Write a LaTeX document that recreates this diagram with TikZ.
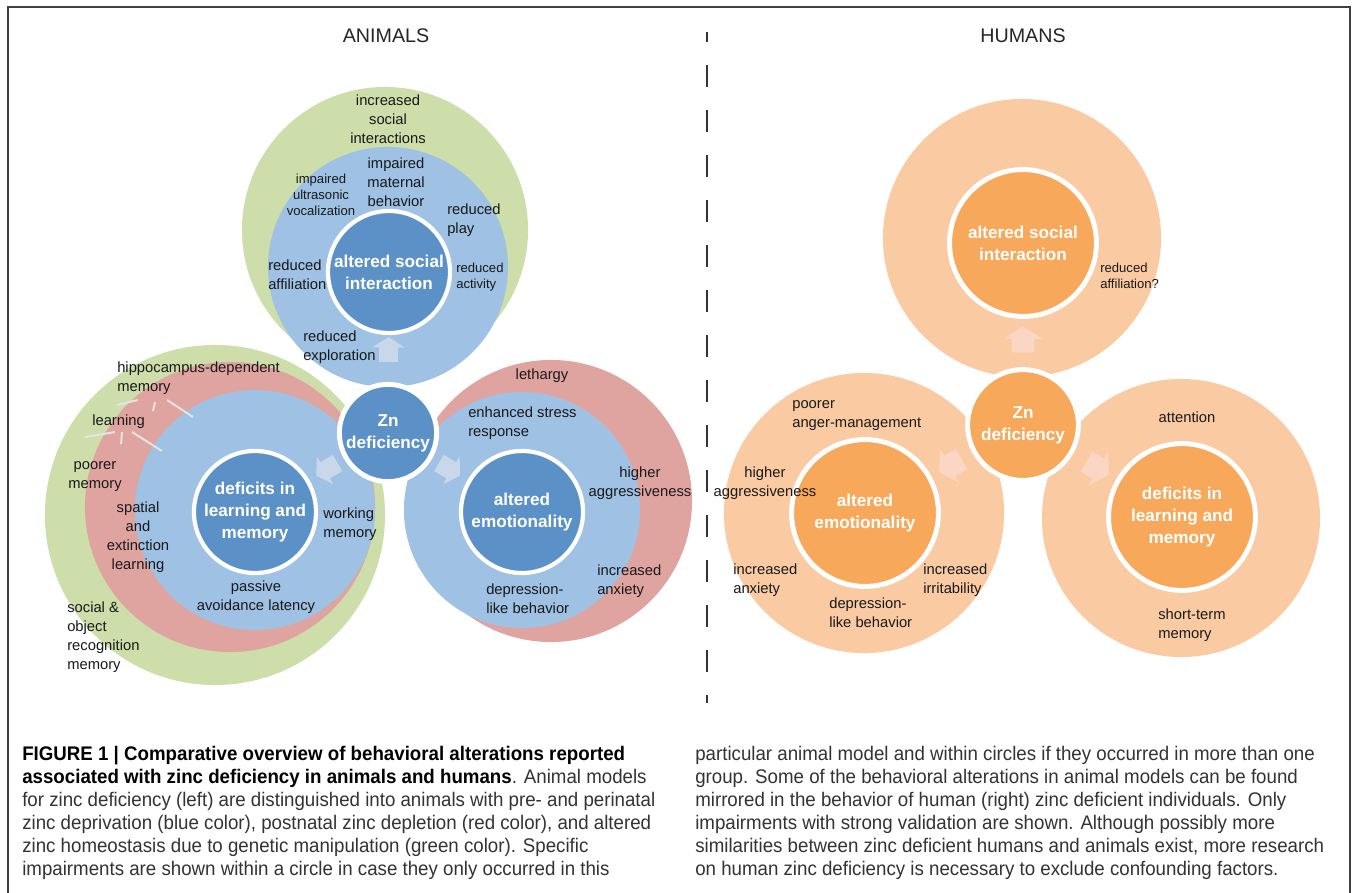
\documentclass[tikz,border=0pt]{standalone}
\usepackage{fontspec}
\setmainfont{Liberation Sans}
\newfontfamily\capfont[FakeStretch=0.95]{Liberation Sans}
\usetikzlibrary{shapes.geometric,shapes.arrows,positioning}
\definecolor{blueD}{RGB}{91,145,198}
\definecolor{blueL}{RGB}{158,193,228}
\definecolor{grnL}{RGB}{205,222,170}
\definecolor{redL}{RGB}{224,164,160}
\definecolor{orgD}{RGB}{247,168,90}
\definecolor{orgL}{RGB}{250,203,162}
\definecolor{arrA}{RGB}{200,216,234}
\definecolor{arrH}{RGB}{251,214,196}
\definecolor{tickgray}{RGB}{228,228,228}
\tikzset{
    ring/.style={circle, inner sep=0pt},
    core/.style={circle, draw=white, line width=3pt, inner sep=0pt, align=center,
        text=white, font=\fontsize{12.2}{15.6}\selectfont\bfseries},
    lab/.style={align=center, inner sep=0pt, text=black!90,
        font=\fontsize{10.5}{13.5}\selectfont},
    labs/.style={lab, font=\fontsize{9.3}{11.3}\selectfont},
    zarrow/.style={single arrow, inner xsep=0pt, inner ysep=0.23cm,
        minimum height=0.62cm, single arrow head extend=0.17cm,
        single arrow tip angle=115, single arrow head indent=0pt,
        sloped, allow upside down},
    zarrowH/.style={zarrow, inner ysep=0.28cm, single arrow head extend=0.2cm,
        minimum height=0.65cm},
    tick/.style={draw=tickgray, line width=1.4pt},
    ttl/.style={inner sep=0pt, text=black!85, font=\fontsize{14}{16}\selectfont},
    captxt/.style={anchor=north west, inner sep=0pt, align=left, text=black!80,
        font=\capfont\fontsize{14}{16.36}\selectfont}
}

\begin{document}
\begin{tikzpicture}[x=0.025cm, y=-0.025cm]
  \useasboundingbox (0,0) rectangle (1354,893);
  \fill[white] (0,0) rectangle (1354,893);

  % frame and divider
  \draw[black!75, line width=1.4pt] (8,893) |- (1350,7) -- (1350,893);
  \draw[black!80, line width=2pt, dash pattern=on 15.6pt off 16.4pt, dash phase=8.5pt]
      (707,32) -- (707,703);

  \node[ttl] (ttlA) at (386,36) {ANIMALS};
  \node[ttl] (ttlH) at (1023,36) {HUMANS};

  %% animals
  % learning and memory
  \node[ring, fill=grnL, minimum size=8.5cm]  (lrnG) at (215,515) {};
  \node[ring, fill=redL, minimum size=7.25cm] (lrnR) at (230,507) {};
  \node[ring, fill=blueL, minimum size=6cm]   (lrnB) at (255,510) {};
  % emotionality
  \node[ring, fill=redL, minimum size=7.05cm] (emoR) at (551,501) {};
  \node[ring, fill=blueL, minimum size=5.9cm] (emoB) at (522,510) {};
  % social interaction
  \node[ring, fill=grnL, minimum size=7.15cm] (socG) at (385,230) {};
  \node[ring, fill=blueL, minimum size=6cm]   (socB) at (388,267) {};

  \node[core, fill=blueD, minimum size=3.05cm] (socA) at (389,272) {altered social\\interaction};
  \node[core, fill=blueD, minimum size=3.05cm] (lrnA) at (255,512) {deficits in\\learning and\\memory};
  \node[core, fill=blueD, minimum size=3.05cm] (emoA) at (522,512) {altered\\emotionality};

  \coordinate (znAc) at (388,433);
  \path (znAc) -- (socA.center) node[zarrow, fill=arrA, pos=.5] (upA) {};
  \path (znAc) -- (lrnA.center) node[zarrow, fill=arrA, pos=.44] (leftA) {};
  \path (znAc) -- (emoA.center) node[zarrow, fill=arrA, pos=.44] (rightA) {};
  \node[core, fill=blueD, line width=3.5pt, minimum size=2.43cm] (znA) at (znAc) {Zn\\deficiency};

  \node[lab] (isi) at (388,119) {increased\\social\\interactions};
  \node[lab] (imb) at (396,182) {impaired\\maternal\\behavior};
  \node[labs] (iuv) at (321,195) {impaired\\ultrasonic\\vocalization};
  \node[lab, anchor=west, align=left] (rpl) at (447,220) {reduced\\play};
  \node[lab, anchor=west, align=left] (raf) at (268,275) {reduced\\affiliation};
  \node[labs, anchor=west, align=left] (rac) at (456,277) {reduced\\activity};
  \node[lab, anchor=west, align=left] (rex) at (303,347) {reduced\\exploration};

  \node[lab, anchor=west, align=left] (hip) at (117,378) {hippocampus-dependent\\memory};
  \node[lab, anchor=west] (lrn) at (92,422) {learning};
  \node[lab] (pme) at (95,477) {poorer\\memory};
  \node[lab] (spa) at (138,537) {spatial\\and\\extinction\\learning};
  \node[lab, anchor=west, align=left] (wme) at (323,524) {working\\memory};
  \node[lab] (pal) at (256,597) {passive\\avoidance latency};
  \node[lab, anchor=west, align=left] (sor) at (67,637) {social \&\\object\\recognition\\memory};

  \draw[tick] (117,405) -- (138,400) (155,402) -- (153,411) (167,400) -- (193,417);
  \draw[tick] (85,437) -- (115,432) (122,432) -- (121,444) (132,432) -- (162,451);

  \node[lab] (let) at (542,376) {lethargy};
  \node[lab, anchor=west, align=left] (esr) at (468,423) {enhanced stress\\response};
  \node[lab] (hagA) at (640,483) {higher\\aggressiveness};
  \node[lab, anchor=west, align=left] (ianA) at (597,581) {increased\\anxiety};
  \node[lab, anchor=west, align=left] (dlbA) at (486,599) {depression-\\like behavior};

  %% humans
  \node[ring, fill=orgL, minimum size=6.95cm] (socHL) at (1022,238) {};
  \node[ring, fill=orgL, minimum size=7cm]    (emoHL) at (864,513) {};
  \node[ring, fill=orgL, minimum size=6.95cm] (lrnHL) at (1181,518) {};

  \node[core, fill=orgD, line width=3.5pt, minimum size=3.67cm] (socH) at (1023,243) {altered social\\interaction};
  \node[core, fill=orgD, line width=3.5pt, minimum size=3.67cm] (emoH) at (865,513) {altered\\emotionality};
  \node[core, fill=orgD, line width=3.5pt, minimum size=3.67cm] (lrnH) at (1182,517) {deficits in\\learning and\\memory};

  \coordinate (znHc) at (1023,425);
  \path (znHc) -- (socH.center) node[zarrowH, fill=arrH, pos=.45] (upH) {};
  \path (znHc) -- (emoH.center) node[zarrowH, fill=arrH, pos=.44] (leftH) {};
  \path (znHc) -- (lrnH.center) node[zarrowH, fill=arrH, pos=.45] (rightH) {};
  \node[core, fill=orgD, line width=3.5pt, minimum size=2.77cm] (znH) at (znHc) {Zn\\deficiency};

  \node[labs, anchor=west, align=left] (rafH) at (1100,276) {reduced\\affiliation?};
  \node[lab, anchor=west, align=left] (pam) at (792,416) {poorer\\anger-management};
  \node[lab] (hagH) at (765,483) {higher\\aggressiveness};
  \node[lab, anchor=west, align=left] (ianH) at (733,580) {increased\\anxiety};
  \node[lab, anchor=west, align=left] (dlbH) at (829,613) {depression-\\like behavior};
  \node[lab, anchor=west, align=left] (iir) at (923,580) {increased\\irritability};
  \node[lab] (att) at (1187,417) {attention};
  \node[lab, anchor=west, align=left] (stm) at (1158,625) {short-term\\memory};

  %% caption
  \node[captxt] (capL) at (22,746) {{\color{black}\bfseries FIGURE 1 | Comparative overview of behavioral alterations reported}\\
    {\color{black}\bfseries associated with zinc deficiency in animals and humans}. Animal models\\
    for zinc deficiency (left) are distinguished into animals with pre- and perinatal\\
    zinc deprivation (blue color), postnatal zinc depletion (red color), and altered\\
    zinc homeostasis due to genetic manipulation (green color). Specific\\
    impairments are shown within a circle in case they only occurred in this};
  \node[captxt] (capR) at (695,746) {particular animal model and within circles if they occurred in more than one\\
    group. Some of the behavioral alterations in animal models can be found\\
    mirrored in the behavior of human (right) zinc deficient individuals. Only\\
    impairments with strong validation are shown. Although possibly more\\
    similarities between zinc deficient humans and animals exist, more research\\
    on human zinc deficiency is necessary to exclude confounding factors.};
\end{tikzpicture}
\end{document}
